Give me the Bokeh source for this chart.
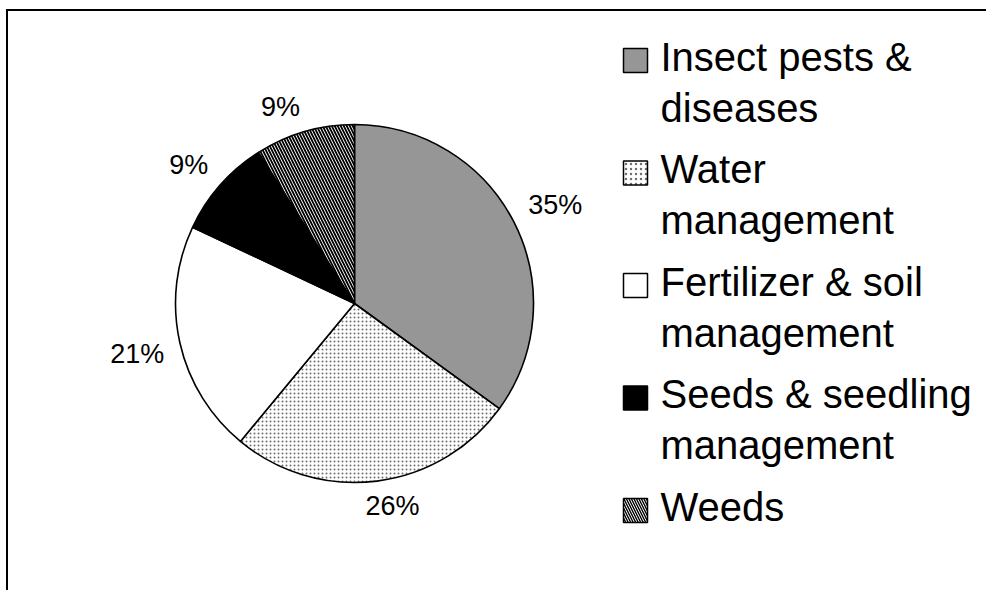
import math
from bokeh.plotting import figure
from bokeh.models import Range1d
from bokeh.core.properties import value
from bokeh.embed import file_html
from bokeh.resources import INLINE

# ---- data ----
categories = ["Insect pests &\ndiseases", "Water\nmanagement",
              "Fertilizer & soil\nmanagement", "Seeds & seedling\nmanagement", "Weeds"]
shares = [35, 26, 21, 9, 9]
pct_labels = ["35%", "26%", "21%", "9%", "9%"]

# ---- styles ----
fills = ["#969696", "white", "white", "black", "white"]
hatches = [" ", ".", " ", " ", "\\"]
hatch_colors = ["black", "#6e6e6e", "black", "black", "black"]
hatch_scales = [6, 4, 6, 6, 6]
hatch_weights = [1, 1, 1, 1, 1.8]

W, H = 980, 581
OX, OY = 8, 11  # page offset of canvas origin


def px(x):
    return x - OX


def py(y):
    return H - (y - OY)


FONT = "Liberation Sans"

p = figure(width=W, height=H, output_backend="svg", toolbar_location=None,
           x_range=Range1d(0, W), y_range=Range1d(0, H),
           min_border=0, outline_line_color=None)
p.axis.visible = False
p.grid.visible = False
p.styles = {"border-top": "2px solid black", "border-left": "2px solid black",
            "margin-top": "9px", "margin-left": "6px"}

CXp, CYp, R = 354, 303, 179  # page-pixel centre and radius
cx, cy = px(CXp), py(CYp)
total = sum(shares)
cum = 0.0
label_font = 27
for i, s in enumerate(shares):
    a0 = math.pi / 2 - 2 * math.pi * cum / total
    a1 = math.pi / 2 - 2 * math.pi * (cum + s) / total
    p.wedge(x=[cx], y=[cy], radius=R, start_angle=a1, end_angle=a0,
            direction="anticlock", fill_color=fills[i], line_color="black",
            line_width=1.6, hatch_pattern=hatches[i], hatch_color=hatch_colors[i],
            hatch_scale=hatch_scales[i], hatch_weight=hatch_weights[i])
    am = math.pi / 2 - 2 * math.pi * (cum + s / 2) / total
    ndig = len(pct_labels[i]) - 1
    hw = label_font * (0.556 * ndig + 0.889) / 2
    hh = 9.5
    k = 4.0
    dx = math.cos(am)
    dy = math.sin(am)
    ax = (R + 16) * dx + hw * max(-1.0, min(1.0, k * dx))
    ay = (R + 16) * dy + hh * max(-1.0, min(1.0, k * dy))
    p.text(x=[cx + ax], y=[cy + ay], text=[pct_labels[i]],
           text_font=value(FONT), text_font_size=f"{label_font}px",
           text_align="center", text_baseline="middle", text_color="black")
    cum += s

# ---- legend ----
lx, ly0, lstep, lsz = px(635), 60, 112.5, 24
for i, cat in enumerate(categories):
    yc = ly0 + lstep * i
    p.rect(x=[lx], y=[py(yc)], width=lsz, height=lsz, fill_color=fills[i],
           line_color="black", line_width=1.5, hatch_pattern=hatches[i],
           hatch_color=hatch_colors[i], hatch_scale=5, hatch_weight=1.4)
    p.text(x=[px(660)], y=[py(yc - 26)], text=[cat], text_font=value(FONT),
           text_font_size="40px", text_align="left", text_baseline="top",
           text_line_height=1.17, text_color="black")

open("out.html", "w").write(file_html(p, INLINE))
